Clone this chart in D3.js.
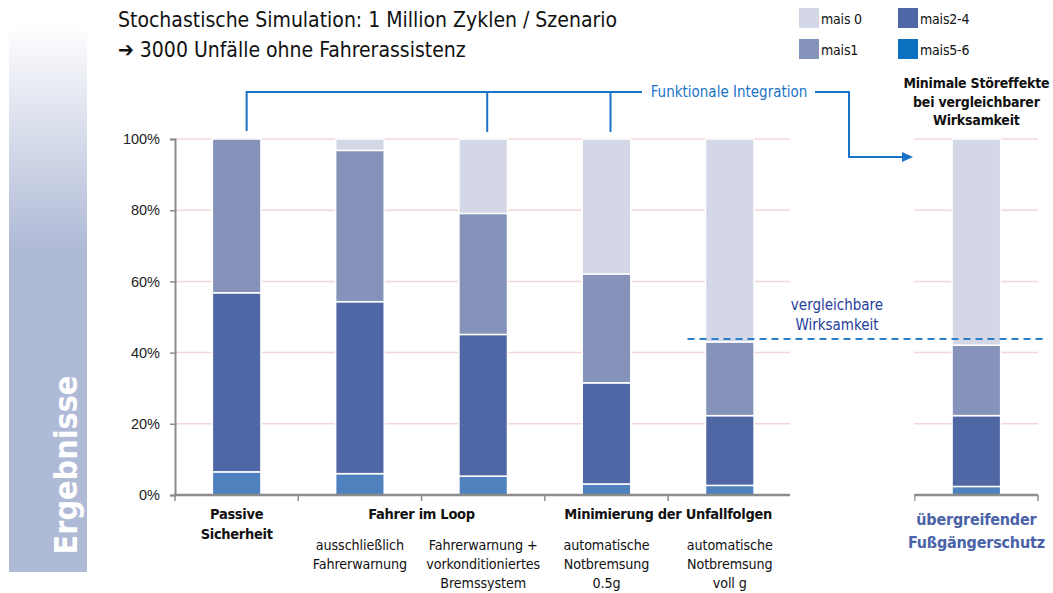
<!DOCTYPE html>
<html>
<head>
<meta charset="utf-8">
<script src="https://cdn.jsdelivr.net/npm/d3@7"></script>
<style>
  html, body { margin: 0; padding: 0; background: #fff; }
  svg { display: block; font-family: "Liberation Sans Narrow", "DejaVu Sans Condensed", sans-serif; }
</style>
</head>
<body>
<svg id="chart" width="1053" height="593"></svg>
<script>
// Scenario categories (one empty slot separates the last group)
const categories = [
  "Passive Sicherheit",
  "ausschließlich Fahrerwarnung",
  "Fahrerwarnung + vorkonditioniertes Bremssystem",
  "automatische Notbremsung 0.5g",
  "automatische Notbremsung voll g",
  "",
  "übergreifender Fußgängerschutz"
];
// Share of injury severity (percent of accidents per scenario)
const mais0   = [0.0,  3.2, 20.9, 37.9, 57.0, null, 57.9];
const mais1   = [43.2, 42.5, 34.0, 30.6, 20.7, null, 19.8];
const mais2_4 = [50.3, 48.3, 39.8, 28.4, 19.6, null, 19.9];
const mais5_6 = [6.5,  6.0,  5.3,  3.1,  2.7,  null, 2.4];
const seriesNames = ["mais 0", "mais1", "mais2-4", "mais5-6"];
const yTicks = [0, 20, 40, 60, 80, 100];
const comparableLevel = 43.8;

// Label texts under the axis
const groupLabels = [
  { lines: ["Passive", "Sicherheit"], cats: [0] },
  { lines: ["Fahrer im Loop"], cats: [1, 2] },
  { lines: ["Minimierung der Unfallfolgen"], cats: [3, 4] }
];
const subLabels = [
  { cat: 1, lines: ["ausschließlich", "Fahrerwarnung"] },
  { cat: 2, lines: ["Fahrerwarnung +", "vorkonditioniertes", "Bremssystem"] },
  { cat: 3, lines: ["automatische", "Notbremsung", "0.5g"] },
  { cat: 4, lines: ["automatische", "Notbremsung", "voll g"] }
];

const barColor = { "mais 0": "#d4d8e6", "mais1": "#8593bb", "mais2-4": "#4f67a4", "mais5-6": "#4e81bd" };
const legendColor = { "mais 0": "#d4d8e6", "mais1": "#8593bb", "mais2-4": "#4f67a4", "mais5-6": "#0a70c0" };
const accent = "#1a73c6";

const svg = d3.select("#chart");

// Side banner with gradient
const defs = svg.append("defs");
const grad = defs.append("linearGradient").attr("id", "side").attr("x1", 0).attr("y1", 0).attr("x2", 0).attr("y2", 1);
grad.append("stop").attr("offset", "0%").attr("stop-color", "#fdfdfe");
grad.append("stop").attr("offset", "40%").attr("stop-color", "#afbad6");
grad.append("stop").attr("offset", "100%").attr("stop-color", "#afbad6");
svg.append("rect").attr("x", 9).attr("y", 30).attr("width", 78).attr("height", 542).attr("fill", "url(#side)");
svg.append("text")
  .attr("transform", "translate(77,465) rotate(-90)")
  .attr("text-anchor", "middle")
  .attr("fill", "#fff").attr("font-weight", "bold").attr("font-size", 32)
  .text("Ergebnisse");

// Title
const title = svg.append("text").attr("x", 118).attr("font-size", 21).attr("fill", "#111");
title.append("tspan").attr("x", 118).attr("y", 27).text("Stochastische Simulation: 1 Million Zyklen / Szenario");
title.append("tspan").attr("x", 118).attr("y", 57).text("➔ 3000 Unfälle ohne Fahrerassistenz");

// Scales
const x = d3.scaleBand().domain(categories).range([175, 1038]).paddingInner(0.606).paddingOuter(0.303);
const y = d3.scaleLinear().domain([0, 100]).range([495, 139]);

// Gridlines
svg.append("g").selectAll("line").data(yTicks.filter(d => d > 0)).join("line")
  .attr("x1", 175).attr("x2", 1038)
  .attr("y1", d => y(d)).attr("y2", d => y(d))
  .attr("stroke", "#f3d6d8").attr("stroke-width", 1.5);

// Stacked bars
const rows = categories.map((c, i) => ({
  cat: c,
  "mais5-6": mais5_6[i], "mais2-4": mais2_4[i], "mais1": mais1[i], "mais 0": mais0[i]
})).filter(r => r["mais1"] !== null);
const stack = d3.stack().keys(["mais5-6", "mais2-4", "mais1", "mais 0"]);
const layers = stack(rows);
svg.append("g").selectAll("g").data(layers).join("g")
  .attr("fill", d => barColor[d.key])
  .selectAll("rect").data(d => d.filter(s => s[1] - s[0] > 0)).join("rect")
  .attr("x", d => x(d.data.cat))
  .attr("width", x.bandwidth())
  .attr("y", d => y(d[1]))
  .attr("height", d => y(d[0]) - y(d[1]))
  .attr("stroke", "#fff").attr("stroke-width", 1.5);

// Y axis
const yAxis = d3.axisLeft(y).tickValues(yTicks).tickFormat(d => d + "%").tickSize(5).tickPadding(10);
const gy = svg.append("g").attr("transform", "translate(175,0)").call(yAxis);
gy.select(".domain").attr("stroke", "#8c8c8c").attr("stroke-width", 2);
gy.selectAll(".tick line").attr("stroke", "#8c8c8c").attr("stroke-width", 1.5);
gy.selectAll(".tick text").attr("fill", "#222")
  .attr("font-family", "\"Liberation Sans\", Arial, sans-serif").attr("font-size", 14.5);

// X axis with category boundaries
const [x0, x1] = x.range();
svg.append("line").attr("x1", 174).attr("x2", x1).attr("y1", 495).attr("y2", 495)
  .attr("stroke", "#8c8c8c").attr("stroke-width", 2.5);
svg.append("g").selectAll("line").data(d3.range(categories.length + 1)).join("line")
  .attr("x1", i => x0 + i * x.step()).attr("x2", i => x0 + i * x.step())
  .attr("y1", 495).attr("y2", 501)
  .attr("stroke", "#8c8c8c").attr("stroke-width", 1.5);

// Blank gap in front of the empty slot
const gapIdx = categories.indexOf("");
svg.append("rect")
  .attr("x", x0 + gapIdx * x.step() - 1.5).attr("width", x.step() + 1)
  .attr("y", 130).attr("height", 380).attr("fill", "#fff");

// Comparable-effectiveness reference line
svg.append("line")
  .attr("x1", x(categories[4]) - 18).attr("x2", 1045)
  .attr("y1", y(comparableLevel)).attr("y2", y(comparableLevel))
  .attr("stroke", "#2a80cc").attr("stroke-width", 2).attr("stroke-dasharray", "7,5");
const vg = svg.append("text").attr("text-anchor", "middle").attr("fill", "#1f409c").attr("font-size", 15);
vg.append("tspan").attr("x", 837).attr("y", 310).text("vergleichbare");
vg.append("tspan").attr("x", 837).attr("y", 330).text("Wirksamkeit");

// "Funktionale Integration" bracket
const cx = i => x(categories[i]) + x.bandwidth() / 2;
const bracketY = 92;
const drops = [cx(0) + 10, cx(2) + 4, cx(3) + 4];
const br = svg.append("g").attr("stroke", accent).attr("stroke-width", 2).attr("fill", "none");
br.append("path").attr("d", `M${drops[0]},131 V${bracketY} H642`);
drops.slice(1).forEach(d => br.append("line").attr("x1", d).attr("x2", d).attr("y1", bracketY).attr("y2", 132));
br.append("path").attr("d", `M815,${bracketY} H849 V157 H904`);
svg.append("path").attr("d", "M902,152 L913,157 L902,162 Z").attr("fill", accent);
svg.append("text").attr("x", 729).attr("y", 97).attr("text-anchor", "middle")
  .attr("fill", accent).attr("font-size", 15).text("Funktionale Integration");

// Heading over the last bar
const cLast = cx(6);
const mh = svg.append("text").attr("text-anchor", "middle").attr("font-weight", "bold")
  .attr("font-size", 14).attr("letter-spacing", -0.2).attr("fill", "#111");
["Minimale Störeffekte", "bei vergleichbarer", "Wirksamkeit"].forEach((t, i) =>
  mh.append("tspan").attr("x", cLast).attr("y", 88 + i * 18.5).text(t));

// Group labels
groupLabels.forEach(g => {
  const gx = d3.mean(g.cats, cx);
  const t = svg.append("text").attr("text-anchor", "middle").attr("font-weight", "bold")
    .attr("font-size", 14.5).attr("letter-spacing", -0.3).attr("fill", "#111");
  g.lines.forEach((l, i) => t.append("tspan").attr("x", gx).attr("y", 519 + i * 20).text(l));
});
subLabels.forEach(s => {
  const t = svg.append("text").attr("text-anchor", "middle").attr("font-size", 14.2)
    .attr("letter-spacing", -0.1).attr("fill", "#111");
  s.lines.forEach((l, i) => t.append("tspan").attr("x", cx(s.cat)).attr("y", 550 + i * 19).text(l));
});
const fl = svg.append("text").attr("text-anchor", "middle").attr("font-weight", "bold")
  .attr("font-size", 16).attr("letter-spacing", -0.2).attr("fill", "#4a63a8");
categories[6].split(" ").forEach((l, i) => fl.append("tspan").attr("x", cLast).attr("y", 525 + i * 23).text(l));

// Legend
const legendPos = [[799, 8], [799, 39], [898, 8], [898, 39]];
const lg = svg.append("g").selectAll("g").data(seriesNames).join("g")
  .attr("transform", (d, i) => `translate(${legendPos[i][0]},${legendPos[i][1]})`);
lg.append("rect").attr("width", 20).attr("height", 20).attr("fill", d => legendColor[d]);
lg.append("text").attr("x", 22).attr("y", 16).attr("font-size", 14).attr("letter-spacing", -0.2)
  .attr("fill", "#111").text(d => d);
</script>
</body>
</html>
